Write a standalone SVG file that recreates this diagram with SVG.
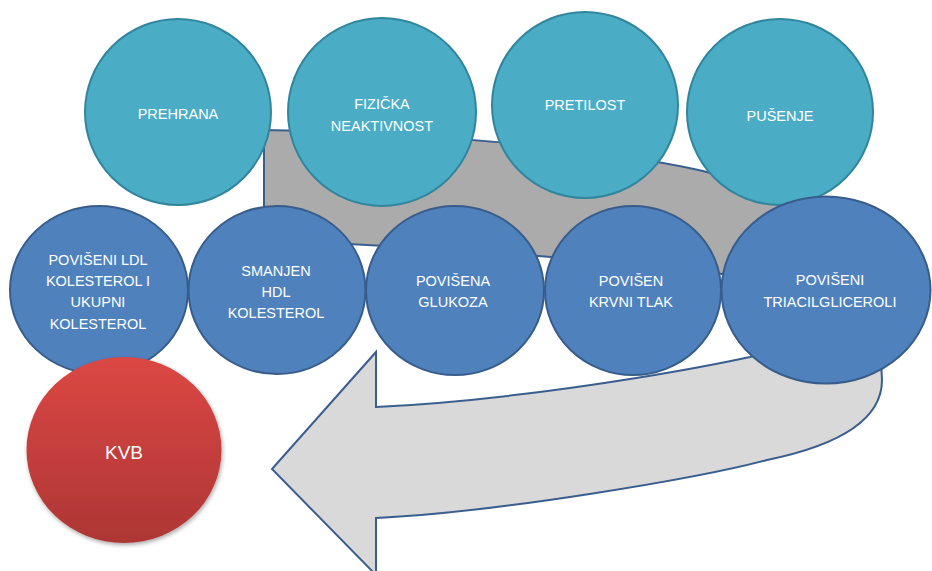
<svg xmlns="http://www.w3.org/2000/svg" width="932" height="571" viewBox="0 0 932 571">
  <style>
    .teal { fill: #4bacc6; stroke: #31859c; stroke-width: 2; }
    .blue { fill: #4f81bd; stroke: #385d8a; stroke-width: 2; }
    .lbl { font-family: "Liberation Sans", Arial, sans-serif; font-size: 14.5px; fill: #ffffff; text-anchor: middle; }
    .big { font-size: 19px; }
  </style>
  <defs>
    <linearGradient id="arrowFill" gradientUnits="userSpaceOnUse" x1="0" y1="0" x2="0" y2="571">
      <stop offset="0" stop-color="#ababab"/>
      <stop offset="0.56" stop-color="#ababab"/>
      <stop offset="0.56" stop-color="#d9d9d9"/>
      <stop offset="1" stop-color="#d9d9d9"/>
    </linearGradient>
    <linearGradient id="redFill" x1="0" y1="0" x2="0" y2="1">
      <stop offset="0" stop-color="#dc4744"/>
      <stop offset="1" stop-color="#ad3634"/>
    </linearGradient>
    <filter id="shadow" x="-20%" y="-20%" width="140%" height="140%">
      <feDropShadow dx="1" dy="2" stdDeviation="2" flood-color="#000000" flood-opacity="0.35"/>
    </filter>
  </defs>

  <g id="connectors">
    <path id="uturn-arrow" fill="url(#arrowFill)" stroke="#3a5f8f" stroke-width="2" stroke-linejoin="miter"
      d="M264,130 C420,132 600,148 703,171 C800,195 882,280 882,380 C882,420 840,445 767,460 C700,478 500,512 376,518 L376,575 L272,469 L376,352 L376,407 C520,400 680,372 750,357 C800,343 810,290 722,274 C640,262 450,248 264,240 Z"/>
  </g>

  <g id="prehrana">
    <circle class="teal" cx="178" cy="112" r="93"/>
    <text class="lbl" x="178" y="119">PREHRANA</text>
  </g>
  <g id="fizicka-neaktivnost">
    <circle class="teal" cx="382" cy="112" r="94"/>
    <text class="lbl" x="382" y="109">FIZIČKA</text>
    <text class="lbl" x="382" y="131">NEAKTIVNOST</text>
  </g>
  <g id="pretilost">
    <circle class="teal" cx="585" cy="105" r="93"/>
    <text class="lbl" x="585" y="110">PRETILOST</text>
  </g>
  <g id="pusenje">
    <circle class="teal" cx="780" cy="112" r="93"/>
    <text class="lbl" x="780" y="121">PUŠENJE</text>
  </g>

  <g id="ldl">
    <ellipse class="blue" cx="99" cy="290" rx="89" ry="84"/>
    <text class="lbl" x="98" y="265">POVIŠENI LDL</text>
    <text class="lbl" x="98" y="286">KOLESTEROL I</text>
    <text class="lbl" x="98" y="307">UKUPNI</text>
    <text class="lbl" x="98" y="329">KOLESTEROL</text>
  </g>
  <g id="hdl">
    <ellipse class="blue" cx="277" cy="290" rx="88.5" ry="84"/>
    <text class="lbl" x="276" y="276">SMANJEN</text>
    <text class="lbl" x="276" y="297">HDL</text>
    <text class="lbl" x="276" y="318">KOLESTEROL</text>
  </g>
  <g id="glukoza">
    <ellipse class="blue" cx="455" cy="290.5" rx="89" ry="84.5"/>
    <text class="lbl" x="453" y="286">POVIŠENA</text>
    <text class="lbl" x="453" y="307">GLUKOZA</text>
  </g>
  <g id="krvni-tlak">
    <ellipse class="blue" cx="633" cy="290.5" rx="88" ry="84.5"/>
    <text class="lbl" x="631" y="286">POVIŠEN</text>
    <text class="lbl" x="631" y="307">KRVNI TLAK</text>
  </g>
  <g id="triacilgliceroli">
    <ellipse class="blue" cx="826" cy="290" rx="104.5" ry="93.5"/>
    <text class="lbl" x="830" y="285">POVIŠENI</text>
    <text class="lbl" x="830" y="307">TRIACILGLICEROLI</text>
  </g>

  <g id="kvb">
    <ellipse cx="124" cy="450" rx="97.5" ry="93" fill="url(#redFill)" filter="url(#shadow)"/>
    <text class="lbl big" x="124" y="459">KVB</text>
  </g>
</svg>
